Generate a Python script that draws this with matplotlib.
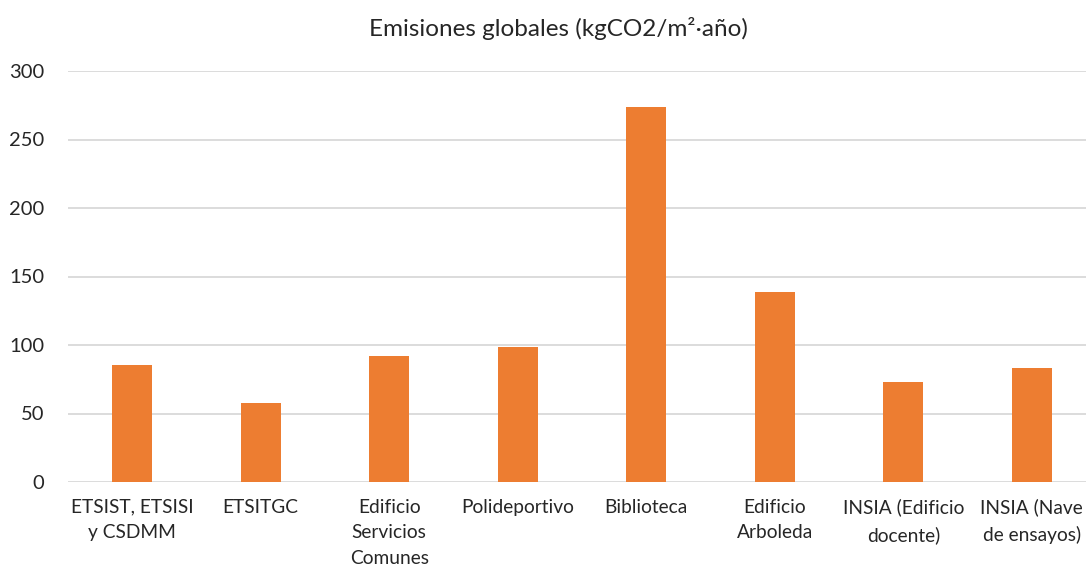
import matplotlib
matplotlib.use("Agg")
import matplotlib.pyplot as plt

categories = [
    "ETSIST, ETSISI\ny CSDMM",
    "ETSITGC",
    "Edificio\nServicios\nComunes",
    "Polideportivo",
    "Biblioteca",
    "Edificio\nArboleda",
    "INSIA (Edificio\ndocente)",
    "INSIA (Nave\nde ensayos)",
]
emisiones = [85.5, 57.8, 92.2, 98.3, 273.4, 139.0, 73.3, 83.3]
y_ticks = [0, 50, 100, 150, 200, 250, 300]
title = "Emisiones globales (kgCO2/m²·año)"

plt.rcParams["font.family"] = ["Lato", "DejaVu Sans"]

fig = plt.figure(figsize=(10.86, 5.68), dpi=100)
ax = fig.add_axes([68 / 1086, 1 - 482 / 568, 1028 / 1086, 411 / 568])

x = list(range(len(categories)))
ax.bar(x, emisiones, width=0.31, color="#ED7D31", zorder=3)

ax.set_xlim(-0.5, len(categories) - 0.5)
ax.set_ylim(0, 300)
ax.set_yticks(y_ticks)
ax.set_yticklabels([str(t) for t in y_ticks], fontsize=14.5, color="#262626")
ax.set_xticks(x)
ax.set_xticklabels(categories, fontsize=13.8, color="#262626", linespacing=1.62)
ax.tick_params(axis="both", length=0)
ax.tick_params(axis="x", pad=12)
ax.tick_params(axis="y", pad=17)
ax.grid(axis="y", color="#D9D9D9", linewidth=1.3, zorder=0)
for s in ax.spines.values():
    s.set_visible(False)

fig.text(558 / 1086, 1 - 29 / 568, title, ha="center", va="center",
         fontsize=17.5, color="#262626")

fig.savefig("out.png", dpi=100)
